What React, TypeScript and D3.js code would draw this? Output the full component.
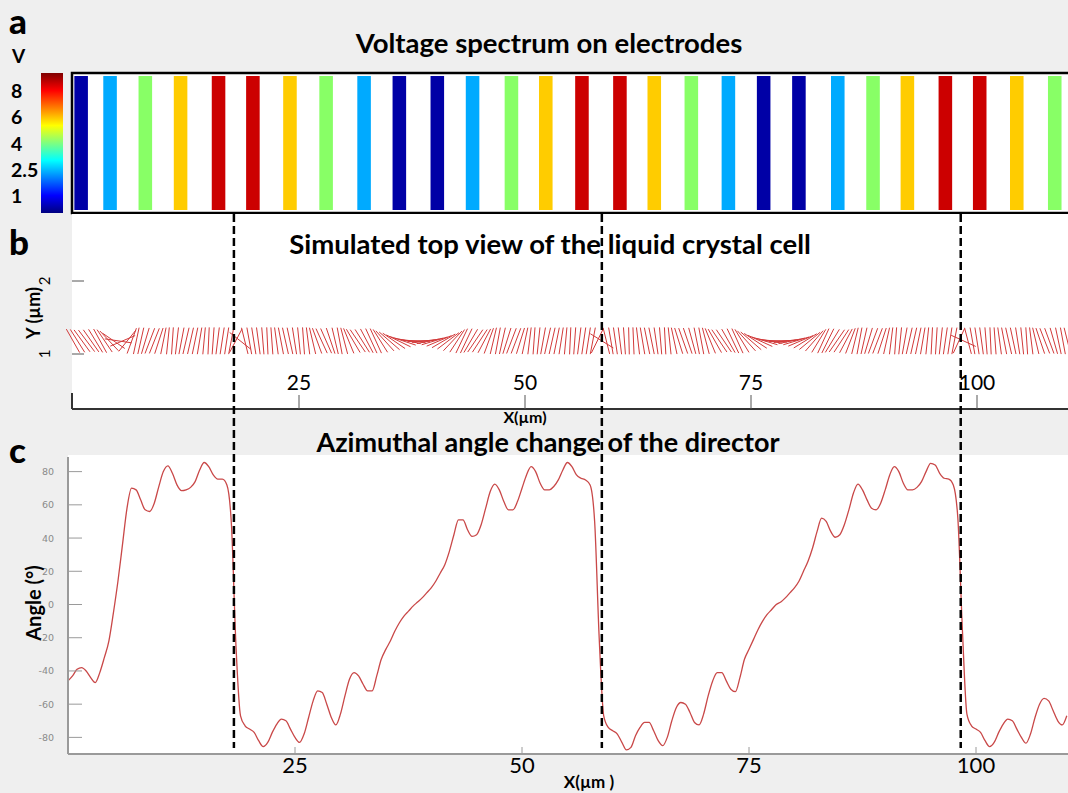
import React, { FC, useEffect, useRef } from "react"
import {
  select,
  scaleLinear,
  scaleOrdinal,
  scalePoint,
  line,
  curveMonotoneX,
  range,
} from "d3"

// electrode centres (µm) and the voltage applied to each
const electrodeX = [
  0.9, 4.1, 8, 11.9, 16.1, 19.9, 24, 28, 32.2, 36.1, 40.3, 44.2, 48.5, 52.3,
  56.3, 60.5, 64.3, 68.4, 72.5, 76.4, 80.3, 84.6, 88.5, 92.3, 96.5, 100.3,
  104.4, 108.6,
]
const electrodeV = [
  1, 2.5, 4, 6, 8, 8, 6, 4, 2.5, 1, 1, 2.5, 4, 6, 8, 8, 6, 4, 2.5, 1, 1, 2.5, 4,
  6, 8, 8, 6, 4,
]
const voltageLevels = [1, 2.5, 4, 6, 8]
const voltageColors = ["#0000a6", "#00aaff", "#88ff66", "#ffcc00", "#cc0000"]
const colorbarLabels = ["8", "6", "4", "2.5", "1"]
const jetStops = [
  "#00007f",
  "#0000ff",
  "#007fff",
  "#00ffff",
  "#7fff7f",
  "#ffff00",
  "#ff7f00",
  "#ff0000",
  "#7f0000",
]

// azimuthal angle of the director (deg), sampled every 0.5 µm from 0 to 110
const angleStep = 0.5
const angleDeg = [
  -46, -43, -39, -38, -40, -44, -47, -41, -32, -22, -5, 14, 36, 58, 70, 69, 63, 57, 56, 61,
  71, 80, 83.5, 79, 72, 68.5, 69, 70.5, 74, 81, 85.5, 83, 78, 75.5, 75.5, 72, 48, -25, -67, -73,
  -75, -77, -82, -85.5, -83, -77, -72, -69, -70, -75, -80, -83, -78, -68, -58, -52, -53, -60, -68, -72.5,
  -66, -55, -45, -41, -43, -48, -52, -52, -43, -33, -27, -22, -16, -11, -7, -4, -1, 1.5, 4, 7,
  10, 14, 19, 24, 32, 42, 51, 51, 45, 41, 42, 48, 58, 68, 72.5, 69, 62, 57, 57, 62,
  70, 78, 83, 80, 73, 69, 69, 71, 75, 81, 85.5, 83, 78, 76, 75, 72, 50, -20, -67, -74,
  -76, -78, -83, -87.5, -86, -79, -74, -71, -71, -76, -82, -85, -80, -70, -62, -59, -60, -65, -71, -72.5,
  -66, -55, -46, -41, -41, -46, -51, -52.5, -44, -33, -27, -21, -15, -10, -6, -3, 0, 1.5, 4, 7,
  10, 14, 20, 26, 34, 44, 52, 50, 44, 40.5, 42, 48, 57, 67, 72.5, 69, 63, 58, 57, 61,
  69, 78, 83, 80, 73, 69, 69, 70.5, 74, 80, 85, 84, 79, 76, 75.5, 72, 52, -15, -66, -73,
  -75, -77, -82, -85.5, -83, -77, -72, -69, -70, -75, -80, -83.5, -78, -68, -60, -56.5, -58, -64, -70, -72.5, -67,
]
const angleX = range(angleDeg.length).map((i) => i * angleStep)

const dividerX = [17.8, 58.5, 98.2]
const xTicks = [25, 50, 75, 100]
const yTicksB = [1, 2]
const angleTicks = [-80, -60, -40, -20, 0, 20, 40, 60, 80]
const directorRowY = 1.18

const titleFont = "Lato, 'Open Sans', sans-serif"

const App: FC = () => {
  const svgRef = useRef<SVGSVGElement>(null)

  useEffect(() => {
    if (svgRef.current) drawFigure(svgRef.current)
  }, [])

  const drawFigure = (el: SVGSVGElement) => {
    const svg = select(el)
    svg.selectAll("*").remove()

    svg
      .append("rect")
      .attr("width", 1068)
      .attr("height", 793)
      .attr("fill", "#efefef")

    // scales
    const xB = scaleLinear().domain([0, 110]).range([73, 1067.4])
    const yB = scaleLinear().domain([1, 2]).range([354, 281])
    const xC = scaleLinear().domain([0, 110]).range([68, 1066.8])
    const yC = scaleLinear().domain([-90, 90]).range([754, 455])
    const vColor = scaleOrdinal<number, string>()
      .domain(voltageLevels)
      .range(voltageColors)
    const cbY = scalePoint<string>().domain(colorbarLabels).range([91, 196])

    const defs = svg.append("defs")
    const grad = defs
      .append("linearGradient")
      .attr("id", "jet")
      .attr("x1", 0)
      .attr("y1", 1)
      .attr("x2", 0)
      .attr("y2", 0)
    jetStops.forEach((c, i) =>
      grad
        .append("stop")
        .attr("offset", i / (jetStops.length - 1))
        .attr("stop-color", c),
    )
    defs
      .append("clipPath")
      .attr("id", "clipA")
      .append("rect")
      .attr("x", 73)
      .attr("y", 74)
      .attr("width", 995)
      .attr("height", 138)

    // panel letters
    const letters = [
      { t: "a", y: 34 },
      { t: "b", y: 255 },
      { t: "c", y: 463 },
    ]
    svg
      .selectAll("text.letter")
      .data(letters)
      .join("text")
      .attr("class", "letter")
      .attr("x", 9)
      .attr("y", (d) => d.y)
      .text((d) => d.t)
      .style("font-family", titleFont)
      .style("font-weight", 900)
      .style("font-size", "35px")

    // ---- a: electrodes
    svg
      .append("text")
      .attr("x", 549)
      .attr("y", 53)
      .attr("text-anchor", "middle")
      .text("Voltage spectrum on electrodes")
      .style("font-family", titleFont)
      .style("font-weight", 700)
      .style("font-size", "27.5px")

    svg
      .append("rect")
      .attr("x", 72)
      .attr("y", 73)
      .attr("width", 1000)
      .attr("height", 140)
      .attr("fill", "#fff")
      .attr("stroke", "#000")
      .attr("stroke-width", 2.5)

    const elW = xB(1.5) - xB(0)
    svg
      .append("g")
      .attr("clip-path", "url(#clipA)")
      .selectAll("rect")
      .data(electrodeX)
      .join("rect")
      .attr("x", (d) => xB(d) - elW / 2)
      .attr("y", 76)
      .attr("width", elW)
      .attr("height", 134)
      .attr("fill", (_, i) => vColor(electrodeV[i]))

    svg
      .append("rect")
      .attr("x", 41)
      .attr("y", 73)
      .attr("width", 22)
      .attr("height", 140)
      .attr("fill", "url(#jet)")
    svg
      .append("text")
      .attr("x", 12)
      .attr("y", 63)
      .text("V")
      .style("font-family", titleFont)
      .style("font-weight", 700)
      .style("font-size", "19px")
    svg
      .selectAll("text.cb")
      .data(colorbarLabels)
      .join("text")
      .attr("class", "cb")
      .attr("x", 11)
      .attr("y", (d) => (cbY(d) ?? 0) + 7)
      .text((d) => d)
      .style("font-family", titleFont)
      .style("font-weight", 700)
      .style("font-size", "19.5px")

    // ---- b: top view of director
    svg
      .append("rect")
      .attr("x", 72)
      .attr("y", 214)
      .attr("width", 996)
      .attr("height", 195)
      .attr("fill", "#fff")
    svg
      .append("text")
      .attr("x", 550)
      .attr("y", 254)
      .attr("text-anchor", "middle")
      .text("Simulated top view of the liquid crystal cell")
      .style("font-family", titleFont)
      .style("font-weight", 700)
      .style("font-size", "27.5px")

    // director bars: the y axis is stretched relative to x, so the drawn
    // tilt is steeper than the azimuth itself
    const half = 13.5
    const stretch = 1.7
    const tilt = (d: number) => {
      const t = (d * Math.PI) / 180
      return Math.atan2(stretch * Math.sin(t), Math.cos(t))
    }
    svg
      .append("g")
      .selectAll("line")
      .data(angleDeg)
      .join("line")
      .attr("x1", (d, i) => xB(angleX[i]) - half * Math.cos(tilt(d)))
      .attr("y1", (d) => yB(directorRowY) + half * Math.sin(tilt(d)))
      .attr("x2", (d, i) => xB(angleX[i]) + half * Math.cos(tilt(d)))
      .attr("y2", (d) => yB(directorRowY) - half * Math.sin(tilt(d)))
      .attr("stroke", "#d23a3a")
      .attr("stroke-width", 1)

    const axB = svg.append("g").attr("stroke", "#333")
    axB
      .append("line")
      .attr("x1", 72)
      .attr("x2", 1068)
      .attr("y1", 409)
      .attr("y2", 409)
      .attr("stroke-width", 2)
    axB
      .append("line")
      .attr("x1", 72)
      .attr("x2", 72)
      .attr("y1", 393)
      .attr("y2", 409)
      .attr("stroke-width", 2)
    axB
      .selectAll("line.yt")
      .data(yTicksB)
      .join("line")
      .attr("class", "yt")
      .attr("x1", 72)
      .attr("x2", 84)
      .attr("y1", (d) => yB(d))
      .attr("y2", (d) => yB(d))
      .attr("stroke", "#555")
    axB
      .selectAll("line.xt")
      .data(xTicks)
      .join("line")
      .attr("class", "xt")
      .attr("x1", (d) => xB(d))
      .attr("x2", (d) => xB(d))
      .attr("y1", 395)
      .attr("y2", 409)
      .attr("stroke", "#555")
    svg
      .selectAll("text.xtb")
      .data(xTicks)
      .join("text")
      .attr("class", "xtb")
      .attr("x", (d) => xB(d))
      .attr("y", 390)
      .attr("text-anchor", "middle")
      .text((d) => d)
      .style("font-family", titleFont)
      .style("font-size", "21px")
    svg
      .selectAll("text.ytb")
      .data(yTicksB)
      .join("text")
      .attr("class", "ytb")
      .attr("transform", (d) => `translate(50, ${yB(d)}) rotate(-90)`)
      .attr("text-anchor", "middle")
      .text((d) => d)
      .style("font-family", titleFont)
      .style("font-size", "15px")
    svg
      .append("text")
      .attr("transform", "translate(40, 313) rotate(-90)")
      .attr("text-anchor", "middle")
      .text("Y (µm)")
      .style("font-family", titleFont)
      .style("font-weight", 700)
      .style("font-size", "18px")
    svg
      .append("text")
      .attr("x", xB(50))
      .attr("y", 423)
      .attr("text-anchor", "middle")
      .text("X(µm)")
      .style("font-family", titleFont)
      .style("font-weight", 700)
      .style("font-size", "16px")

    // ---- c: azimuthal angle
    svg
      .append("rect")
      .attr("x", 68)
      .attr("y", 455)
      .attr("width", 1000)
      .attr("height", 298)
      .attr("fill", "#fff")
    svg
      .append("text")
      .attr("x", 548)
      .attr("y", 452)
      .attr("text-anchor", "middle")
      .text("Azimuthal angle change of the director")
      .style("font-family", titleFont)
      .style("font-weight", 700)
      .style("font-size", "27px")

    const angleLine = line<number>()
      .x((_, i) => xC(angleX[i]))
      .y((d) => yC(d))
      .curve(curveMonotoneX)
    svg
      .append("path")
      .attr("d", angleLine(angleDeg) ?? "")
      .attr("fill", "none")
      .attr("stroke", "#c94848")
      .attr("stroke-width", 1.3)

    const axC = svg.append("g").attr("stroke", "#9a9a9a")
    axC
      .append("line")
      .attr("x1", 68)
      .attr("x2", 68)
      .attr("y1", 457)
      .attr("y2", 754)
      .attr("stroke-width", 2)
    axC
      .append("line")
      .attr("x1", 68)
      .attr("x2", 1068)
      .attr("y1", 754)
      .attr("y2", 754)
      .attr("stroke-width", 2)
    axC
      .selectAll("line.yt")
      .data(angleTicks)
      .join("line")
      .attr("class", "yt")
      .attr("x1", 68)
      .attr("x2", 82)
      .attr("y1", (d) => yC(d))
      .attr("y2", (d) => yC(d))
    axC
      .selectAll("line.xt")
      .data(xTicks)
      .join("line")
      .attr("class", "xt")
      .attr("x1", (d) => xC(d))
      .attr("x2", (d) => xC(d))
      .attr("y1", 747)
      .attr("y2", 754)
    svg
      .selectAll("text.ytc")
      .data(angleTicks)
      .join("text")
      .attr("class", "ytc")
      .attr("x", 54)
      .attr("y", (d) => yC(d) + 3.5)
      .attr("text-anchor", "end")
      .text((d) => d)
      .attr("fill", "#8a8a8a")
      .style("font-family", "'DejaVu Sans', sans-serif")
      .style("font-size", "9.5px")
    svg
      .selectAll("text.xtc")
      .data(xTicks)
      .join("text")
      .attr("class", "xtc")
      .attr("x", (d) => xC(d))
      .attr("y", 773)
      .attr("text-anchor", "middle")
      .text((d) => d)
      .style("font-family", titleFont)
      .style("font-size", "22px")
    svg
      .append("text")
      .attr("transform", "translate(41, 603) rotate(-90)")
      .attr("text-anchor", "middle")
      .text("Angle (°)")
      .style("font-family", titleFont)
      .style("font-weight", 700)
      .style("font-size", "20px")
    svg
      .append("text")
      .attr("x", 589)
      .attr("y", 788)
      .attr("text-anchor", "middle")
      .text("X(µm )")
      .style("font-family", titleFont)
      .style("font-weight", 700)
      .style("font-size", "17px")

    // dashed period markers
    svg
      .append("g")
      .selectAll("line")
      .data(dividerX)
      .join("line")
      .attr("x1", (d) => xB(d))
      .attr("x2", (d) => xB(d))
      .attr("y1", 214)
      .attr("y2", 748)
      .attr("stroke", "#000")
      .attr("stroke-width", 2.5)
      .attr("stroke-dasharray", "8,4")
  }

  return (
    <svg
      ref={svgRef}
      width={1068}
      height={793}
      style={{ position: "absolute", left: 0, top: 0 }}
    />
  )
}

export default App
